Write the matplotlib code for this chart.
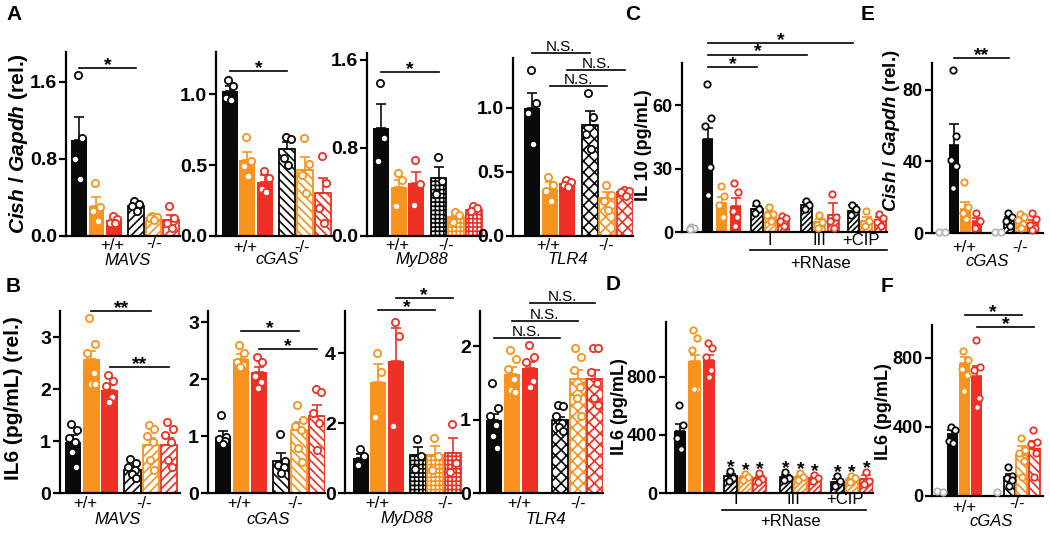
import numpy as np
import matplotlib
matplotlib.use("Agg")
import matplotlib.pyplot as plt

plt.rcParams.update({
    'font.family': 'Liberation Sans',
    'mathtext.fontset': 'custom',
    'mathtext.rm': 'Liberation Sans:bold',
    'mathtext.it': 'Liberation Sans:italic:bold',
    'mathtext.bf': 'Liberation Sans:bold',
    'hatch.linewidth': 1.2,
})

BLACK = '#0a0a0a'
ORANGE = '#f7931e'
RED = '#ee3124'
GRAY = '#b5b5b5'

# ---------------- data (bar order: ctrl, stim 1, stim 2 for +/+ then -/-) ----------------
# A: Cish / Gapdh (rel.)
a_mavs_mean = [1.00, 0.31, 0.17, 0.31, 0.19, 0.17]
a_mavs_sem = [0.24, 0.10, 0.03, 0.03, 0.02, 0.05]
a_mavs_pts = [[1.67, 1.02, 0.80, 0.59], [0.55, 0.30, 0.26, 0.16], [0.21, 0.18, 0.14, 0.13],
              [0.36, 0.33, 0.31, 0.26], [0.21, 0.20, 0.19, 0.17], [0.31, 0.19, 0.14, 0.08]]

a_cgas_mean = [1.02, 0.535, 0.38, 0.61, 0.465, 0.30]
a_cgas_sem = [0.04, 0.06, 0.05, 0.05, 0.09, 0.11]
a_cgas_pts = [[1.10, 1.06, 0.97, 0.96], [0.70, 0.53, 0.49, 0.42], [0.46, 0.41, 0.33, 0.31],
              [0.70, 0.68, 0.55, 0.50], [0.69, 0.51, 0.43, 0.30], [0.56, 0.37, 0.20, 0.09]]

a_myd88_mean = [0.98, 0.44, 0.48, 0.53, 0.17, 0.24]
a_myd88_sem = [0.22, 0.07, 0.10, 0.10, 0.02, 0.01]
a_myd88_pts = [[1.39, 0.89, 0.68], [0.57, 0.51, 0.27], [0.69, 0.47, 0.28],
               [0.72, 0.50, 0.38], [0.22, 0.19, 0.13], [0.27, 0.25, 0.23]]

a_tlr4_mean = [1.00, 0.37, 0.41, 0.87, 0.30, 0.34]
a_tlr4_sem = [0.12, 0.05, 0.01, 0.11, 0.04, 0.01]
a_tlr4_pts = [[1.30, 1.04, 0.96, 0.72], [0.46, 0.40, 0.35, 0.27], [0.44, 0.42, 0.40, 0.38],
              [1.12, 0.93, 0.80, 0.68], [0.40, 0.32, 0.27, 0.20], [0.36, 0.35, 0.34, 0.31]]

# B: IL6 (pg/mL) (rel.)
b_mavs_mean = [0.99, 2.57, 1.99, 0.44, 0.92, 0.93]
b_mavs_sem = [0.13, 0.17, 0.08, 0.07, 0.14, 0.13]
b_mavs_pts = [[1.32, 1.22, 1.05, 0.98, 0.78, 0.50], [3.37, 2.87, 2.70, 2.30, 2.10, 2.10],
              [2.27, 2.15, 2.05, 1.85, 1.75], [0.65, 0.57, 0.50, 0.44, 0.36, 0.28],
              [1.30, 1.24, 1.10, 0.98, 0.64, 0.45], [1.36, 1.24, 1.12, 0.98, 0.64, 0.50]]

b_cgas_mean = [0.98, 2.35, 2.12, 0.57, 1.10, 1.35]
b_cgas_sem = [0.11, 0.09, 0.09, 0.13, 0.15, 0.19]
b_cgas_pts = [[1.38, 0.98, 0.95, 0.92, 0.86], [2.61, 2.46, 2.31, 2.25, 2.22],
              [2.40, 2.30, 2.05, 1.95, 1.85], [1.03, 0.56, 0.50, 0.46, 0.35],
              [1.54, 1.28, 1.18, 1.10, 0.80, 0.54], [1.83, 1.78, 1.40, 1.23, 0.75]]

b_myd88_mean = [1.00, 3.17, 3.77, 1.09, 1.09, 1.14]
b_myd88_sem = [0.12, 0.52, 0.94, 0.22, 0.24, 0.43]
b_myd88_pts = [[1.25, 1.05, 0.80], [4.00, 3.46, 2.17], [4.90, 4.49, 1.91],
               [1.54, 1.05, 0.70], [1.57, 1.05, 0.67], [1.97, 0.85, 0.60]]

b_tlr4_mean = [1.00, 1.62, 1.70, 0.99, 1.55, 1.56]
b_tlr4_sem = [0.08, 0.10, 0.09, 0.05, 0.12, 0.11]
b_tlr4_pts = [[1.50, 1.16, 1.05, 0.93, 0.77, 0.62], [1.95, 1.82, 1.69, 1.55, 1.40, 1.38],
              [2.02, 1.85, 1.78, 1.52, 1.45], [1.20, 1.18, 1.05, 0.95, 0.90, 0.85],
              [1.98, 1.85, 1.68, 1.45, 1.30, 1.05], [1.98, 1.97, 1.65, 1.50, 1.30, 1.20]]

# C: IL 10 (pg/mL); untreated, ctrl, stim1, stim2, then +RNase I, III, +CIP
c_mean = [2.0, 44.0, 13.6, 12.3, 10.8, 8.0, 5.2, 12.8, 4.5, 8.0, 10.0, 5.2, 5.7]
c_sem = [0.5, 5.0, 2.9, 3.7, 1.5, 1.5, 1.0, 1.2, 1.5, 5.6, 2.7, 2.0, 1.2]
c_pts = [[2.6, 2.0, 1.5], [70, 54, 50, 31, 17.5], [21.7, 17, 12.7, 7], [23, 19, 10, 7, 3],
         [13.7, 11, 9], [12, 8.5, 8, 5], [7.5, 6.5, 5, 3], [14.6, 13, 11], [8, 4.5, 2],
         [18, 7, 5, 2], [13, 11, 8], [10, 5, 3], [8.5, 6.5, 4.5, 3]]

# D: IL6 (pg/mL)
d_mean = [428, 910, 917, 117, 110, 103, 112, 112, 103, 78, 96, 96]
d_sem = [48, 40, 33, 12, 8, 12, 10, 8, 8, 18, 10, 25]
d_pts = [[607, 470, 380, 300], [1124, 1069, 986, 717, 717], [1036, 1000, 940, 850, 800],
         [152, 100, 80], [130, 110, 90], [140, 95, 75], [145, 105, 90], [135, 110, 90],
         [125, 100, 85], [115, 80, 45], [115, 100, 75], [145, 80, 60]]

# E: Cish / Gapdh (rel.), cGAS +/+ and -/-
e_mean = [0, 49, 13.4, 6.8, 0, 7.5, 6.5, 5.5]
e_sem = [0, 12, 4, 1.5, 0, 1.5, 1.5, 1.8]
e_pts = [[0.5, 0.5], [91, 54, 41, 37.5, 25], [28.5, 14.5, 11, 7.6], [11, 6.5, 3],
         [0.5, 0.5], [11, 9, 6.5, 4], [10.5, 9, 7, 5, 3], [11, 8, 4.5, 3, 1.5]]

# F: IL6 (pg/mL), cGAS +/+ and -/-
f_mean = [0, 359, 771, 696, 0, 111, 240, 275]
f_sem = [0, 23, 35, 58, 0, 15, 47, 41]
f_pts = [[28, 22], [400, 385, 320, 305], [841, 790, 736, 700, 609], [906, 745, 733, 567, 515],
         [25], [170, 115, 104, 95, 60], [336, 265, 250, 200, 109], [383, 315, 300, 250, 110]]

# ---------------- layout ----------------
W, H = 1050, 533
fig = plt.figure(figsize=(W / 100, H / 100), dpi=100)

JITTER = {
    1: [0.0],
    2: [-0.22, 0.22],
    3: [-0.05, 0.18, -0.16],
    4: [-0.08, 0.2, -0.2, 0.06],
    5: [-0.08, 0.2, -0.2, 0.14, -0.02],
    6: [-0.12, 0.2, -0.22, 0.12, -0.05, 0.18],
}


def axes_px(left, right, top, bottom):
    return fig.add_axes([left / W, 1 - bottom / H, (right - left) / W, (bottom - top) / H])


def ax_height_px(ax):
    return ax.get_position().height * H


def draw_bars(ax, pos, means, sems, pts, colors, hatches, width, ms, jit=1.0):
    for x, m, s, p, c, h in zip(pos, means, sems, pts, colors, hatches):
        if m > 0:
            if h:
                ax.bar(x, m, width, facecolor='white', edgecolor=c, hatch=h,
                       linewidth=1.3, zorder=1)
            else:
                ax.bar(x, m, width, color=c, linewidth=0, zorder=1)
        if s > 0:
            ax.errorbar(x, m, yerr=[[0], [s]], fmt='none', ecolor=c, elinewidth=1.2,
                        capsize=3.5, capthick=1.2, zorder=2)
        offs = np.array(JITTER[len(p)]) * jit
        ax.plot(x + offs, p, 'o', mfc='white', mec=c, ms=ms, mew=1.3, zorder=3,
                clip_on=False)


def style(ax, xlim, ylim, ticks, labels, tsize):
    ax.set_xlim(*xlim)
    ax.set_ylim(*ylim)
    ax.set_xticks([])
    ax.set_yticks(ticks, labels, fontsize=tsize, fontweight='bold')
    ax.spines['top'].set_visible(False)
    ax.spines['right'].set_visible(False)
    ax.spines['left'].set_linewidth(1.6)
    ax.spines['bottom'].set_linewidth(1.6)
    ax.tick_params(axis='y', length=5, width=1.6, pad=1.5)
    ax.patch.set_alpha(0)


def ylabel_px(ax, text, px, py, size):
    pos = ax.get_position()
    xa = (px - pos.x0 * W) / (pos.width * W)
    ya = ((1 - pos.y0) * H - py) / (pos.height * H)
    ax.set_ylabel(text, fontsize=size, fontweight='bold', va='center')
    ax.yaxis.set_label_coords(xa, ya)


def under(ax, x, dy, text, size=12, style='normal'):
    ax.text(x, -dy / ax_height_px(ax), text, transform=ax.get_xaxis_transform(),
            ha='center', va='center', fontsize=size, fontstyle=style, clip_on=False)


def genotype(ax, xp, xm, xg, gene, dp, dm, dg):
    under(ax, xp, dp, '+/+')
    under(ax, xm, dm, '-/-')
    under(ax, xg, dg, gene, style='italic')


def rnase(ax, xi, xiii, xcip, x1, x2, xr, d1, d2, d3):
    for x, t in zip([xi, xiii, xcip], ['I', 'III', '+CIP']):
        under(ax, x, d1, t)
    y = -d2 / ax_height_px(ax)
    ax.plot([x1, x2], [y, y], color='k', lw=1.2, transform=ax.get_xaxis_transform(),
            clip_on=False)
    under(ax, xr, d3, '+RNase')


def sig(ax, pos, specs):
    for i, j, y, txt in specs:
        ax.plot([pos[i], pos[j]], [y, y], color='k', lw=1.2, clip_on=False)
        xm = (pos[i] + pos[j]) / 2
        if txt.startswith('N'):
            ax.annotate(txt, (xm, y), xytext=(0, 2), textcoords='offset pixels',
                        ha='center', va='baseline', fontsize=11, annotation_clip=False)
        else:
            ax.annotate(txt, (xm, y), xytext=(0, -2), textcoords='offset pixels',
                        ha='center', va='baseline', fontsize=14, fontweight='bold',
                        annotation_clip=False)


cols6 = [BLACK, ORANGE, RED] * 2
cols_cd = [GRAY, BLACK, ORANGE, RED] + [BLACK, ORANGE, RED] * 3
cols_d = [BLACK, ORANGE, RED] * 4
cols_ef = [GRAY, BLACK, ORANGE, RED] * 2
pos6 = [0, 1, 2, 3.25, 4.25, 5.25]
pos6_tlr4b = [0, 1, 2, 3.65, 4.65, 5.6]
pos_c = [0, 1.15, 2.15, 3.15, 4.7, 5.65, 6.6, 8.3, 9.25, 10.2, 11.65, 12.65, 13.6]
pos_d = [0, 1, 2, 3.5, 4.5, 5.5, 7.3, 8.3, 9.3, 10.85, 11.85, 12.85]
pos_e = [0, 1, 2, 3, 4.8, 5.75, 6.75, 7.75]
pos_f = [0, 1, 2, 3, 4.65, 5.65, 6.65, 7.65]

cish_label = r'$\mathit{Cish}$ / $\mathit{Gapdh}$ (rel.)'

# ---- row A ----
a_specs = [
    ((66, 180, 52, 236), (-0.74, 5.77), 1.91, a_mavs_mean, a_mavs_sem, a_mavs_pts, '////',
     [0, 0.8, 1.6], ['0.0', '0.8', '1.6'], (1.9, 4.3, 2.8, 'MAVS', 10, 7, 24.5),
     [(0, 3, 1.745, '*')]),
    ((216, 332, 52, 236), (-0.76, 5.76), 1.296, a_cgas_mean, a_cgas_sem, a_cgas_pts, '\\\\\\\\',
     [0, 0.5, 1.0], ['0.0', '0.5', '1.0'], (0.87, 4.1, 2.7, 'cGAS', 11, 11, 23.5),
     [(0, 3, 1.16, '*')]),
    ((367, 484, 53, 236), (-0.79, 5.82), 1.66, a_myd88_mean, a_myd88_sem, a_myd88_pts, '++++',
     [0, 0.8, 1.6], ['0.0', '0.8', '1.6'], (0.9, 3.7, 2.3, 'MyD88', 10, 9, 23.5),
     [(0, 3, 1.49, '*')]),
    ((513, 633, 58, 236), (-1.07, 5.7), 1.39, a_tlr4_mean, a_tlr4_sem, a_tlr4_pts, 'xxx',
     [0, 0.5, 1.0], ['0.0', '0.5', '1.0'], (0.9, 4.2, 2.0, 'TLR4', 10, 9, 23),
     [(0, 3, 1.43, 'N.S.'), (2, 5, 1.30, 'N.S.'), (1, 4, 1.17, 'N.S.')]),
]
# ---- row B ----
b_specs = [
    ((60, 180, 311, 493), (-0.72, 5.85), 3.5, b_mavs_mean, b_mavs_sem, b_mavs_pts, '////',
     [0, 1, 2, 3], ['0', '1', '2', '3'], (0.67, 3.9, 2.45, 'MAVS', 10, 10, 26),
     [(1, 4, 3.5, '**'), (2, 5, 2.42, '**')]),
    ((208, 325, 311, 493), (-0.83, 5.7), 3.2, b_cgas_mean, b_cgas_sem, b_cgas_pts, '\\\\\\\\',
     [0, 1, 2, 3], ['0', '1', '2', '3'], (0.9, 4.05, 2.55, 'cGAS', 10, 10, 26),
     [(1, 4, 2.84, '*'), (2, 5, 2.53, '*')]),
    ((345, 462, 311, 493), (-0.9, 5.78), 5.2, b_myd88_mean, b_myd88_sem, b_myd88_pts, '++++',
     [0, 2, 4], ['0', '2', '4'], (0.97, 4.8, 2.66, 'MyD88', 10, 10, 26),
     [(2, 5, 5.57, '*'), (1, 4, 5.23, '*')]),
    ((480, 603, 311, 493), (-0.78, 6.06), 2.48, b_tlr4_mean, b_tlr4_sem, b_tlr4_pts, 'xxx',
     [0, 1, 2], ['0', '1', '2'], (1.42, 4.7, 2.9, 'TLR4', 10, 10, 26),
     [(2, 5, 2.59, 'N.S.'), (1, 4, 2.35, 'N.S.'), (0, 3, 2.11, 'N.S.')]),
]

for specs in (a_specs, b_specs):
    for k, (box, xlim, ytop, m, s, p, hatch, ticks, tl, gl, sg) in enumerate(specs):
        ax = axes_px(*box)
        pos = pos6_tlr4b if (specs is b_specs and k == 3) else pos6
        draw_bars(ax, pos, m, s, p, cols6, [None] * 3 + [hatch] * 3, 0.9, ms=5.2)
        style(ax, xlim, (0, ytop), ticks, tl, 14)
        genotype(ax, *gl)
        sig(ax, pos, sg)
        if k == 0:
            if specs is a_specs:
                ylabel_px(ax, cish_label, 19, 144, 15)
            else:
                ylabel_px(ax, 'IL6 (pg/mL) (rel.)', 14, 398, 15)

# ---- C ----
ax = axes_px(682, 887, 63, 232)
draw_bars(ax, pos_c, c_mean, c_sem, c_pts, cols_cd, [None] * 4 + ['//////'] * 9, 0.8, ms=4.6)
style(ax, (-0.72, 14.1), (0, 80), [0, 30, 60], ['0', '30', '60'], 13)
ylabel_px(ax, 'IL 10 (pg/mL)', 644, 145, 13)
rnase(ax, 5.65, 9.2, 12.2, 4.2, 14.1, 9.3, 8, 18, 31)
sig(ax, pos_c, [(1, 4, 78, '*'), (1, 7, 84, '*'), (1, 10, 89.6, '*')])

# ---- D ----
ax = axes_px(666, 873, 322, 493)
draw_bars(ax, pos_d, d_mean, d_sem, d_pts, cols_d, [None] * 3 + ['//////'] * 9, 0.88, ms=4.6)
style(ax, (-0.97, 13.3), (0, 1179), [0, 400, 800], ['0', '400', '800'], 13)
ylabel_px(ax, 'IL6 (pg/mL)', 620, 407, 13)
rnase(ax, 3.86, 7.8, 11.4, 2.9, 12.8, 7.6, 7, 17, 29)
for x, p in zip(pos_d[3:], d_pts[3:]):
    ax.annotate('*', (x, max(p)), xytext=(0, -1), textcoords='offset pixels', ha='center',
                va='baseline', fontsize=14, fontweight='bold', annotation_clip=False)

# ---- E ----
ax = axes_px(932, 1043, 63, 233)
draw_bars(ax, pos_e, e_mean, e_sem, e_pts, cols_ef, [None] * 5 + ['//////'] * 3, 0.88,
          ms=4.6, jit=1.2)
style(ax, (-0.85, 8.63), (0, 95), [0, 40, 80], ['0', '40', '80'], 13)
ylabel_px(ax, cish_label, 891, 131, 13.5)
genotype(ax, 1.9, 6.7, 3.9, 'cGAS', 14, 14, 29)
sig(ax, pos_e, [(1, 5, 97.8, '**')])

# ---- F ----
ax = axes_px(932, 1043, 325, 496)
draw_bars(ax, pos_f, f_mean, f_sem, f_pts, cols_ef, [None] * 5 + ['\\\\\\\\'] * 3, 0.9,
          ms=4.6, jit=1.2)
style(ax, (-0.65, 8.37), (0, 991), [0, 400, 800], ['0', '400', '800'], 13)
ylabel_px(ax, 'IL6 (pg/mL)', 884, 412, 13)
genotype(ax, 1.95, 6.26, 4.2, 'cGAS', 11, 7, 26)
sig(ax, pos_f, [(2, 6, 1047, '*'), (3, 7, 977, '*')])

# panel letters
for letter, px, py in [('A', 14, 15), ('B', 13, 287), ('C', 633, 14),
                       ('D', 613, 284), ('E', 868, 14), ('F', 887, 286)]:
    fig.text(px / W, 1 - py / H, letter, ha='center', va='center', fontsize=15,
             fontweight='bold')

fig.savefig('out.png', dpi=100)
